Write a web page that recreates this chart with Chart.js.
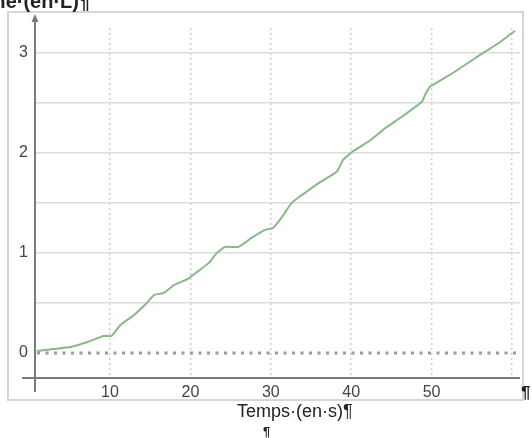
<!DOCTYPE html>
<html>
<head>
<meta charset="utf-8">
<script src="https://cdn.jsdelivr.net/npm/chart.js@4"></script>
<style>
  html, body { margin: 0; padding: 0; background: #fff; overflow: hidden; }
  #wrap { position: relative; width: 532px; height: 438px; overflow: hidden; font-family: "Liberation Sans", Arial, sans-serif; }
  canvas { position: absolute; left: 0; top: 0; }
  .txt { position: absolute; white-space: nowrap; color: #222; line-height: 1; }
</style>
</head>
<body>
<div id="wrap">
  <canvas id="c" width="532" height="438"></canvas>
  <div class="txt" id="ytitle" style="left:-54px; top:-9px; font-size:20px; font-weight:bold;">Volume·(en·L)¶</div>
  <div class="txt" id="xtitle" style="left:237px; top:402px; font-size:18px;">Temps·(en·s)¶</div>
  <div class="txt" style="left:263px; top:425px; font-size:13px; font-weight:bold;">¶</div>
  <div class="txt" style="left:521px; top:384px; font-size:17px; font-weight:bold;">¶</div>
</div>
<script>
// Data
const times  = [0.9, 3, 5.1, 7.2, 9.2, 10.2, 11.3, 13.0, 14.7, 15.5, 16.7, 18.0, 19.7, 21.0, 22.3, 23.3, 24.3, 26.0, 27.6, 29.3, 30.3, 31.4, 32.6, 33.9, 36.0, 38.2, 39.0, 40.3, 42.3, 44.3, 46.3, 48.8, 49.2, 49.8, 52.5, 55.5, 58.4, 60.4];
const volumes = [0.02, 0.04, 0.06, 0.11, 0.17, 0.17, 0.28, 0.38, 0.51, 0.58, 0.60, 0.68, 0.74, 0.82, 0.90, 1.00, 1.06, 1.06, 1.15, 1.23, 1.25, 1.36, 1.50, 1.58, 1.70, 1.81, 1.93, 2.02, 2.12, 2.25, 2.36, 2.51, 2.58, 2.66, 2.79, 2.95, 3.10, 3.22];
const xTicks = [10, 20, 30, 40, 50, 60];
const xTickLabels = ['10', '20', '30', '40', '50', ''];
const yTicks = [0, 0.5, 1, 1.5, 2, 2.5, 3];
const yTickLabels = ['0', '', '1', '', '2', '', '3'];

const points = times.map((t, i) => ({ x: t, y: volumes[i] }));

const decor = {
  id: 'decor',
  beforeDraw(chart) {
    const ctx = chart.ctx;
    ctx.save();
    ctx.strokeStyle = '#d6d6d6';
    ctx.lineWidth = 2;
    ctx.strokeRect(8, 12, 515, 388);
    ctx.restore();
  },
  beforeDatasetsDraw(chart) {
    const ctx = chart.ctx, y = chart.scales.y;
    const y0 = y.getPixelForValue(0);
    ctx.save();
    ctx.strokeStyle = '#9a9a9a';
    ctx.lineWidth = 3;
    ctx.setLineDash([3, 5.5]);
    ctx.beginPath();
    ctx.moveTo(chart.chartArea.left + 2, y0);
    ctx.lineTo(517, y0);
    ctx.stroke();
    ctx.restore();
  },
  afterDatasetsDraw(chart) {
    const ctx = chart.ctx, a = chart.chartArea;
    ctx.save();
    ctx.strokeStyle = '#7a7a7a';
    ctx.fillStyle = '#7a7a7a';
    ctx.lineWidth = 2;
    ctx.beginPath();
    ctx.moveTo(a.left, 20);
    ctx.lineTo(a.left, 392);
    ctx.stroke();
    ctx.beginPath();
    ctx.moveTo(a.left, 14);
    ctx.lineTo(a.left - 3.5, 22);
    ctx.lineTo(a.left + 3.5, 22);
    ctx.closePath();
    ctx.fill();
    ctx.beginPath();
    ctx.moveTo(22, a.bottom);
    ctx.lineTo(520, a.bottom);
    ctx.stroke();
    ctx.restore();
  }
};

new Chart(document.getElementById('c'), {
  type: 'line',
  data: {
    datasets: [{
      data: points,
      borderColor: '#88b888',
      borderWidth: 2,
      pointRadius: 0,
      tension: 0.12,
      fill: false,
      clip: false
    }]
  },
  options: {
    responsive: false,
    animation: false,
    events: [],
    layout: { padding: { top: 28, right: 12, left: 0, bottom: 0 } },
    plugins: { legend: { display: false }, tooltip: { enabled: false } },
    scales: {
      x: {
        type: 'linear',
        min: 0.67,
        max: 61.0,
        afterFit(s) { s.height = 60; },
        afterBuildTicks(s) { s.ticks = xTicks.map(v => ({ value: v })); },
        border: { display: false, dash: [2, 3] },
        grid: { color: '#cfcfcf', lineWidth: 1.5, drawTicks: false },
        ticks: {
          padding: 5,
          color: '#444',
          font: { size: 16, family: '"Liberation Sans", Arial, sans-serif' },
          maxRotation: 0,
          callback(v) { const i = xTicks.indexOf(v); return i >= 0 ? xTickLabels[i] : ''; }
        }
      },
      y: {
        type: 'linear',
        min: -0.25,
        max: 3.247,
        afterFit(s) { s.width = 35; },
        afterBuildTicks(s) { s.ticks = yTicks.map(v => ({ value: v })); },
        border: { display: false },
        grid: {
          drawTicks: false,
          lineWidth: 1.5,
          color(c) { return c.tick && c.tick.value === 0 ? 'rgba(0,0,0,0)' : '#dcdcdc'; }
        },
        ticks: {
          padding: 7,
          color: '#444',
          font: { size: 16, family: '"Liberation Sans", Arial, sans-serif' },
          callback(v) { const i = yTicks.indexOf(v); return i >= 0 ? yTickLabels[i] : ''; }
        }
      }
    }
  },
  plugins: [decor]
});
</script>
</body>
</html>
